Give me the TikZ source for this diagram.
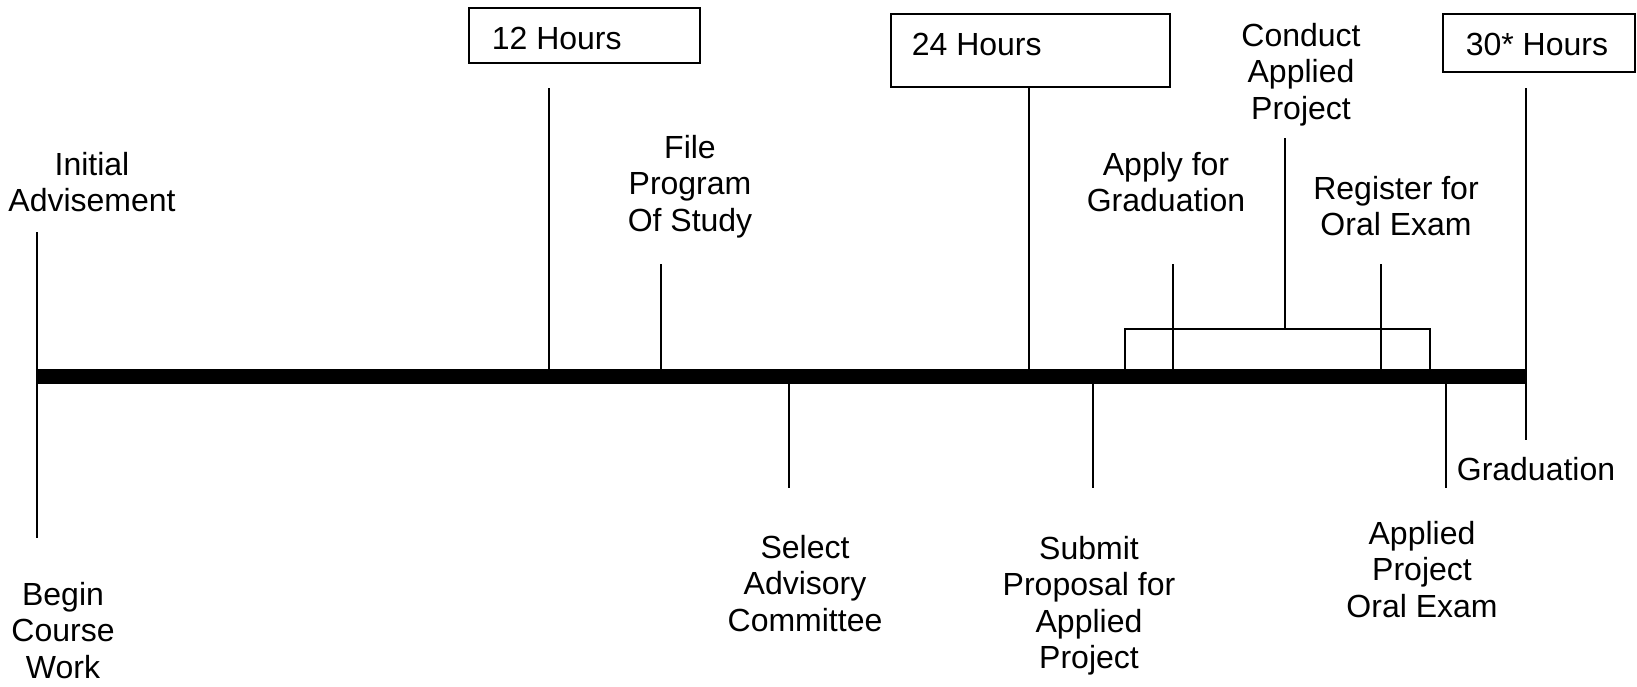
\documentclass[tikz,border=0pt]{standalone}
\usepackage{fontspec}
\setmainfont{Liberation Sans}

\begin{document}
\begin{tikzpicture}[x=1pt,y=-1pt,line width=1.6pt,lbl/.style={font=\fontsize{32}{36.5}\selectfont,align=center,anchor=base,inner sep=0pt},hbox/.style={draw,line width=2pt,inner sep=0pt}]
\useasboundingbox (0,0) rectangle (1637,686);
\coordinate (L) at (37,376); \coordinate (R) at (1526,376);
\foreach \p/\x/\a/\b in {IA/37/232/538,T12/549/88/376,FP/661/264/376,SA/789/376/488,T24/1029/88/376,SP/1093/376/488,AG/1173/264/376,RO/1381/264/376,OE/1446/376/488,T30/1526/88/440} {\coordinate (\p a) at (\x,\a); \coordinate (\p b) at (\x,\b); \draw (\p a)--(\p b);}
\coordinate (K1) at (1125,376); \coordinate (K2) at (1430,376); \coordinate (CA) at (1285,329); \coordinate (CAt) at (1285,138);
\draw (K1) |- (CA) -| (K2); \draw (CA)--(CAt);
\draw[line width=15pt] (L)--(R);
\node[hbox,minimum width=231pt,minimum height=55pt] (B12) at (584.5,35.5) {};
\node[hbox,minimum width=279pt,minimum height=73pt] (B24) at (1030.5,50.5) {};
\node[hbox,minimum width=192pt,minimum height=58pt] (B30) at (1539,43) {};
\foreach \p/\x/\y/\txt in {H12/491/49/12 Hours,H24/911/55/24 Hours,H30/1465/55/30* Hours} \node[lbl,anchor=base west] (\p) at (\x,\y) {\txt};
\foreach \p/\x/\y/\txt in {IA/92/211.5/Initial\\Advisement,BCW/63/678/Begin\\Course\\Work,FPS/690/231/File\\Program\\Of Study,SAC/805/631/Select\\Advisory\\Committee,SPA/1089/668.5/Submit\\Proposal for\\Applied\\Project,AFG/1166/211.5/Apply for\\Graduation,CAP/1301/119/Conduct\\Applied\\Project,ROE/1396/235.5/Register for\\Oral Exam,APO/1422/617/Applied\\Project\\Oral Exam,GR/1536/480/Graduation} \node[lbl] (\p) at (\x,\y) {\txt};
\end{tikzpicture}
\end{document}
